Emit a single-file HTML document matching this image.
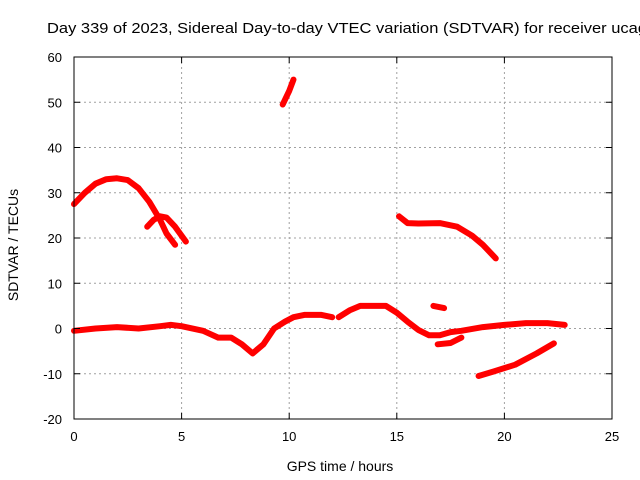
<!DOCTYPE html>
<html><head><meta charset="utf-8"><style>
html,body{margin:0;padding:0;background:#fff;overflow:hidden}
svg{display:block;font-family:"Liberation Sans",sans-serif}
</style></head><body>
<svg id="chart" width="640" height="480">
<text x="47" y="33" font-size="14.5" textLength="600" lengthAdjust="spacingAndGlyphs">Day 339 of 2023, Sidereal Day-to-day VTEC variation (SDTVAR) for receiver ucag</text>
<text x="340" y="471" font-size="14" text-anchor="middle">GPS time / hours</text>
<text transform="translate(18,245) rotate(-90)" font-size="14" text-anchor="middle">SDTVAR / TECUs</text>
<g id="grid"></g><g id="series"></g><g id="axes"></g>
</svg>
<script>
const xTicks=[0,5,10,15,20,25];
const yTicks=[-20,-10,0,10,20,30,40,50,60];
const segA_h=[0,0.5,1,1.5,2,2.5,3,3.5,4,4.3,4.7];
const segA_v=[27.5,30,32,33,33.2,32.8,31,28,24,21,18.5];
const segB_h=[3.4,3.7,4,4.3,4.7,5.2];
const segB_v=[22.5,24,24.8,24.5,22.5,19.2];
const segC_h=[9.7,10,10.2];
const segC_v=[49.5,52.5,55];
const segD_h=[15.1,15.5,16,17,17.8,18.5,19,19.6];
const segD_v=[24.8,23.3,23.2,23.3,22.5,20.5,18.5,15.5];
const segE_h=[0,1,2,3,4,4.5,5,6,6.7,7.3,7.8,8.3,8.8,9.3,9.8,10.2,10.7,11,11.5,12];
const segE_v=[-0.5,0,0.3,0,0.5,0.8,0.5,-0.5,-2,-2,-3.5,-5.5,-3.5,0,1.5,2.5,3,3,3,2.5];
const segF_h=[12.3,12.8,13.3,14,14.5,15,15.5,16,16.5,17,17.5,18,19,20,21,22,22.8];
const segF_v=[2.5,4,5,5,5,3.5,1.5,-0.3,-1.5,-1.5,-0.8,-0.5,0.3,0.8,1.2,1.2,0.8];
const segG_h=[16.9,17.5,18];
const segG_v=[-3.5,-3.2,-2];
const segH_h=[16.7,17.2];
const segH_v=[5,4.5];
const segI_h=[18.8,19.5,20.5,21.5,22.3];
const segI_v=[-10.5,-9.5,-8,-5.5,-3.3];
const X0=74,X1=612,Y0=419,Y1=57;
const xs=h=>X0+h/25*(X1-X0);
const ys=v=>Y0-(v+20)/80*(Y0-Y1);
const NS="http://www.w3.org/2000/svg";
const grid=document.getElementById('grid'),axes=document.getElementById('axes'),ser=document.getElementById('series');
function mk(tag,attrs,parent){const e=document.createElementNS(NS,tag);for(const k in attrs)e.setAttribute(k,attrs[k]);parent.appendChild(e);return e;}
xTicks.forEach(t=>{
 const x=xs(t);
 if(t>0&&t<25){const g=mk('line',{x1:x,x2:x,y1:Y1,y2:Y0,stroke:'#a0a0a0','stroke-dasharray':'2,3'},grid);
 
 }
 const l=mk('text',{x:x,y:Y0+22,'font-size':13,'text-anchor':'middle'},axes);l.textContent=t;
 
 
 mk('line',{x1:x,x2:x,y1:Y0,y2:Y0-6,stroke:'#000'},axes);
 mk('line',{x1:x,x2:x,y1:Y1,y2:Y1+6,stroke:'#000'},axes);
});
yTicks.forEach(t=>{
 const y=ys(t);
 if(t>-20&&t<60){const g=mk('line',{x1:X0,x2:X1,y1:y,y2:y,stroke:'#a0a0a0','stroke-dasharray':'2,3'},grid);
 
 }
 const l=mk('text',{x:X0-12,y:y+5,'font-size':13,'text-anchor':'end'},axes);l.textContent=t;
 
 
 mk('line',{x1:X0,x2:X0+6,y1:y,y2:y,stroke:'#000'},axes);
 mk('line',{x1:X1,x2:X1-6,y1:y,y2:y,stroke:'#000'},axes);
});
const border=mk('rect',{x:X0,y:Y1,width:X1-X0,height:Y0-Y1,fill:'none',stroke:'#000'},axes);


const segs=[[segA_h,segA_v],[segB_h,segB_v],[segC_h,segC_v],[segD_h,segD_v],[segE_h,segE_v],[segF_h,segF_v],[segG_h,segG_v],[segH_h,segH_v],[segI_h,segI_v]];
segs.forEach(([h,v])=>{
 const pts=h.map((t,i)=>xs(t).toFixed(1)+','+ys(v[i]).toFixed(1)).join(' ');
 const p=mk('polyline',{points:pts,fill:'none',stroke:'#ff0000','stroke-width':6,'stroke-linejoin':'round','stroke-linecap':'round'},ser);
 
 
});
</script>
</body></html>
